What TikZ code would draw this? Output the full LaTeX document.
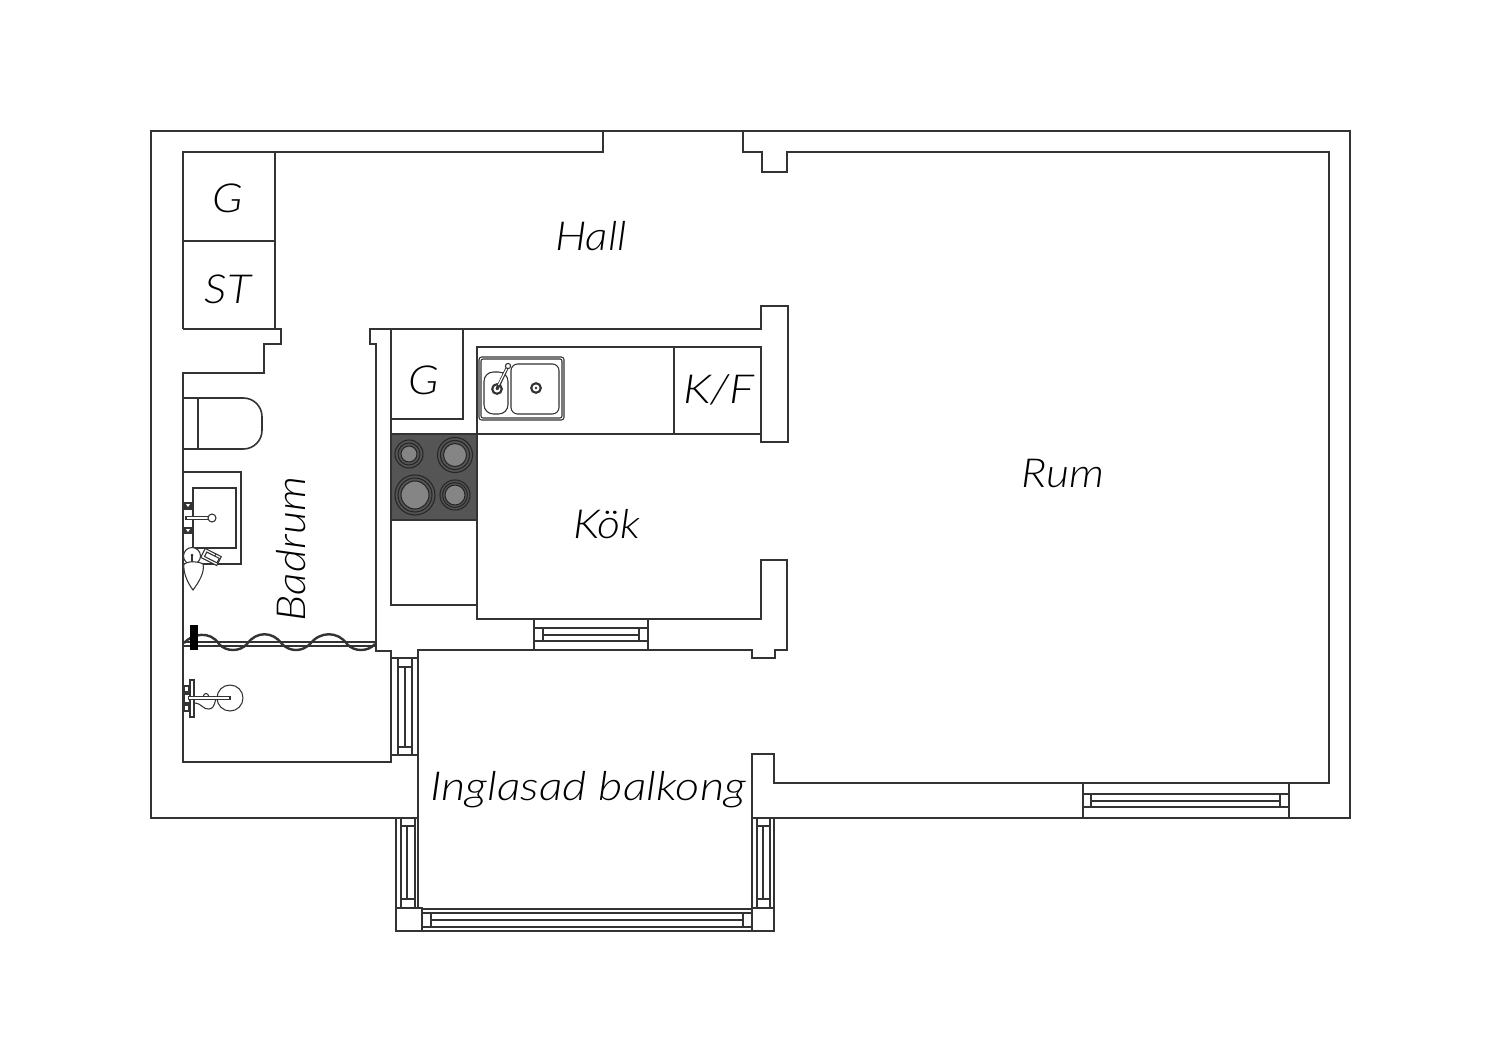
\documentclass[tikz,border=0pt]{standalone}
\usepackage{fontspec}
\setmainfont{Lato Light}[ItalicFont={Lato Light Italic},FakeStretch=1.12]
\definecolor{ink}{HTML}{333333}
\definecolor{hob}{HTML}{555555}
\definecolor{plate}{HTML}{858585}
\tikzset{
 wall/.style={draw=ink,line width=1.2pt,line join=miter},
 thin/.style={draw=ink,line width=1pt,line join=miter},
 detail/.style={draw=ink,line width=.8pt},
 lbl/.style={font=\fontsize{30}{36}\selectfont\itshape,text=black,inner sep=0pt},
 burner/.style={draw=black!85,line width=.8pt},
}
\begin{document}
\begin{tikzpicture}[x=.75pt,y=-.75pt]
\useasboundingbox (0,0) rectangle (1500,1060);
\fill[white] (0,0) rectangle (1500,1060);
% outer walls
\draw[wall] (418,818) -- (151,818) -- (151,131) -- (1350,131) -- (1350,818) -- (752,818);
\draw[wall] (396,818) -- (396,931) -- (774,931) -- (774,818);
% inner outline: hall and living room
\draw[wall] (183,329) -- (183,152) -- (603,152) -- (603,131);
\draw[wall] (743,131) -- (743,152) -- (762,152) -- (762,172) -- (787,172) -- (787,152) -- (1329,152) -- (1329,783) -- (774,783) -- (774,754) -- (752,754) -- (752,931);
% closets
\draw[wall] (275,152) -- (275,329);
\draw[wall] (183,241) -- (275,241);
\draw[wall] (183,329) -- (281,329) -- (281,344) -- (264,344) -- (264,373) -- (183,373) -- (183,762) -- (391,762) -- (391,651) -- (376,651) -- (376,344) -- (370,344) -- (370,329) -- (761,329) -- (761,306) -- (788,306) -- (788,442) -- (761,442) -- (761,347) -- (477,347) -- (477,619) -- (761,619) -- (761,560) -- (787,560) -- (787,650) -- (775,650) -- (775,658) -- (752,658) -- (752,650) -- (418,650) -- (418,908) -- (422,908) -- (422,931);
% kitchen units
\draw[wall] (391,329) -- (391,605) -- (477,605);
\draw[wall] (391,419) -- (463,419) -- (463,329);
\draw[wall] (477,434) -- (761,434);
\draw[wall] (674,347) -- (674,434);
% hob
\filldraw[wall,fill=hob] (391,434) rectangle (477,520);
\foreach \cx/\cy/\ra/\rb/\rc in {409/454/14/11/8, 455/455/17.5/14.5/11.5, 415/495/20/17/14, 455/495/15/12.5/10}{
  \draw[burner] (\cx,\cy) circle (\ra);
  \draw[burner] (\cx,\cy) circle (\rb);
  \filldraw[burner,fill=plate] (\cx,\cy) circle (\rc);
}
% sink
\draw[detail,rounded corners=2pt] (479,357) rectangle (564,420);
\draw[detail,rounded corners=1.5pt] (481,359) rectangle (562,418);
\draw[detail,rounded corners=7pt] (484,372) rectangle (508,414);
\draw[detail,rounded corners=5pt] (511,364) rectangle (559,414);
\foreach \cx/\cy in {497/389,536/388}{
  \draw[draw=ink,line width=1.6pt] (\cx,\cy) circle (4.8);
  \fill[ink] (\cx,\cy) circle (1.4);
}
\draw[draw=ink,line width=2.4pt] (497,389) -- (507,368);
\draw[draw=white,line width=.9pt] (498.5,385) -- (507,368);
\filldraw[detail,fill=white] (508,366) circle (2.6);
% toilet
\draw[wall,rounded corners=14pt] (183,398) -- (262,398) -- (262,449) -- (183,449);
\draw[wall] (198,398) -- (198,449);
% wash basin
\draw[wall] (183,472) -- (241,472) -- (241,564) -- (183,564);
\filldraw[wall,fill=white] (193,488) rectangle (236,548);
\fill[ink] (183,502) rectangle (193,510);
\fill[ink] (183,527) rectangle (193,534);
\fill[white] (186,504) -- (190,504) -- (188,507) -- cycle;
\fill[white] (186,529) -- (190,529) -- (188,532) -- cycle;
\draw[draw=ink,line width=3pt] (185,518) -- (209,518);
\draw[draw=white,line width=1pt] (187,518) -- (209,518);
\filldraw[detail,fill=white] (212,518) circle (4);
% shower head on basin
\filldraw[detail,fill=white] (192,556) circle (8.5);
\draw[draw=ink,line width=1.2pt] (192,556) -- (192,562);
\fill[ink] (192,555) circle (1.5);
\filldraw[detail,fill=white] (184,564) .. controls (188,561) and (198,561) .. (203,564) .. controls (205,572) and (199,582) .. (193,590) .. controls (187,582) and (183,572) .. (184,564) -- cycle;
\begin{scope}[shift={(211,557)},rotate=-27]
 \filldraw[detail,fill=white] (-9,-5) rectangle (9,5);
 \filldraw[detail,fill=white] (-6,-2.5) rectangle (8,2.5);
 \draw[detail] (3,-5) -- (3,-2.5);
\end{scope}
% shower curtain
\draw[draw=ink,line width=1pt] (183,642) -- (376,642);
\draw[draw=ink,line width=1pt] (183,646) -- (376,646);
\draw[draw=ink,line width=1.8pt] (184,643) .. controls (192,634) and (210,630) .. (219,644)
  .. controls (226,652) and (240,652) .. (247,644)
  .. controls (256,631) and (273,631) .. (282,644)
  .. controls (290,652) and (302,652) .. (310,644)
  .. controls (320,631) and (338,631) .. (347,644)
  .. controls (354,652) and (368,652) .. (375,644);
\fill[black] (190,625) rectangle (198,650);
% shower mixer
\filldraw[detail,fill=white] (230,698) circle (13);
\draw[detail] (194,703) .. controls (202,703) and (203,710) .. (209,709) .. controls (216,708) and (214,700) .. (217,698);
\draw[detail] (206,696) circle (2.5);
\filldraw[detail,fill=white] (190,680) rectangle (194,717);
\filldraw[detail,fill=white] (184,686) rectangle (189,692);
\filldraw[detail,fill=white] (184,705) rectangle (189,711);
\filldraw[detail,fill=white] (184,694) rectangle (190,703);
\draw[draw=ink,line width=3.4pt] (188,698) -- (231,698);
\draw[draw=white,line width=1pt] (189,698) -- (229,698);
% bathroom window
\draw[thin] (398,658) -- (398,755);
\draw[thin] (412,658) -- (412,755);
\draw[thin] (391,658) -- (418,658);
\draw[thin] (391,755) -- (418,755);
\draw[thin] (398,667) -- (412,667);
\draw[thin] (398,747) -- (412,747);
\draw[thin] (405,667) -- (405,747);
% kitchen window
\draw[thin] (534,619) -- (534,650);
\draw[thin] (648,619) -- (648,650);
\draw[thin] (534,628) -- (648,628);
\draw[thin] (534,641) -- (648,641);
\draw[thin] (543,628) -- (543,641);
\draw[thin] (639,628) -- (639,641);
\draw[thin] (543,635) -- (639,635);
% living room window
\draw[thin] (1083,783) -- (1083,818);
\draw[thin] (1289,783) -- (1289,818);
\draw[thin] (1083,794) -- (1289,794);
\draw[thin] (1083,807) -- (1289,807);
\draw[thin] (1091,794) -- (1091,807);
\draw[thin] (1280,794) -- (1280,807);
\draw[thin] (1091,801) -- (1280,801);
% balcony left window
\draw[thin] (401,818) -- (401,908);
\draw[thin] (415,818) -- (415,908);
\draw[thin] (396,908) -- (418,908);
\draw[thin] (401,826) -- (415,826);
\draw[thin] (401,899) -- (415,899);
\draw[thin] (407,826) -- (407,899);
% balcony right window
\draw[thin] (757,818) -- (757,908);
\draw[thin] (770,818) -- (770,908);
\draw[thin] (752,908) -- (774,908);
\draw[thin] (757,826) -- (770,826);
\draw[thin] (757,899) -- (770,899);
\draw[thin] (763,826) -- (763,899);
% balcony front window
\draw[thin] (422,909) -- (752,909);
\draw[thin] (422,913) -- (752,913);
\draw[thin] (422,927) -- (752,927);
\draw[thin] (431,920) -- (743,920);
\draw[thin] (431,913) -- (431,927);
\draw[thin] (743,913) -- (743,927);
% labels
\node[lbl] (hall) at (591,236) {Hall};
\node[lbl] (rum) at (1063,473) {Rum};
\node[lbl] (kok) at (607,524) {Kök};
\node[lbl,xscale=1.05,transform shape] (kf) at (719,390) {K/F};
\node[lbl] (g1) at (228,198) {G};
\node[lbl] (st) at (228,289) {ST};
\node[lbl] (g2) at (424,380) {G};
\node[lbl,rotate=90] (bad) at (291,549) {Badrum};
\node[lbl,xscale=1.05,transform shape] (balk) at (588,790) {Inglasad balkong};
\end{tikzpicture}
\end{document}
